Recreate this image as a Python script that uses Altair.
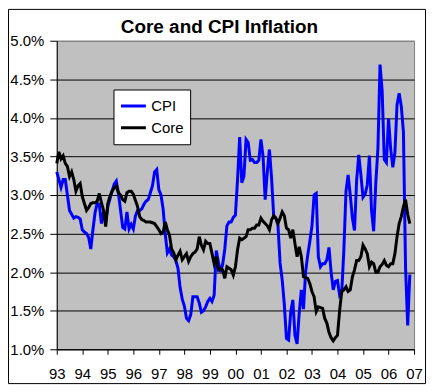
import altair as alt
import pandas as pd

# Year-over-year inflation, %, monthly Jan 1993 .. Nov 2006
cpi_1993 = [3.3, 3.2, 3.1, 3.2, 3.2, 3.0, 2.8, 2.75, 2.7, 2.72, 2.71, 2.69]
cpi_1994 = [2.55, 2.52, 2.5, 2.45, 2.3, 2.55, 2.77, 2.89, 2.88, 2.63, 2.78, 2.65]
cpi_1995 = [2.85, 2.95, 3.05, 3.14, 3.18, 3.02, 2.8, 2.58, 2.56, 2.78, 2.56, 2.62]
cpi_1996 = [2.56, 2.73, 2.8, 2.8, 2.82, 2.88, 2.92, 2.94, 3.03, 3.12, 3.3, 3.33]
cpi_1997 = [3.07, 3.0, 2.82, 2.5, 2.25, 2.3, 2.22, 2.2, 2.15, 2.05, 1.8, 1.65]
cpi_1998 = [1.56, 1.4, 1.37, 1.45, 1.68, 1.68, 1.68, 1.6, 1.48, 1.5, 1.55, 1.62]
cpi_1999 = [1.66, 1.62, 1.7, 2.28, 2.13, 2.0, 2.1, 2.3, 2.6, 2.65, 2.65, 2.71]
cpi_2000 = [2.74, 3.2, 3.75, 3.16, 3.24, 3.72, 3.68, 3.45, 3.46, 3.42, 3.42, 3.45]
cpi_2001 = [3.72, 3.5, 2.94, 3.3, 3.59, 3.22, 2.73, 2.7, 2.61, 2.12, 1.9, 1.58]
cpi_2002 = [1.14, 1.12, 1.48, 1.64, 1.18, 1.07, 1.47, 1.77, 1.52, 2.0, 2.22, 2.4]
cpi_2003 = [2.6, 3.0, 3.02, 2.2, 2.07, 2.11, 2.11, 2.16, 2.32, 2.0, 1.77, 1.88]
cpi_2004 = [1.89, 1.7, 1.74, 2.29, 3.05, 3.26, 3.0, 2.7, 2.54, 3.19, 3.52, 3.26]
cpi_2005 = [2.97, 3.01, 3.13, 3.51, 2.8, 2.53, 3.15, 3.6, 4.69, 4.35, 3.46, 3.42]
cpi_2006 = [3.99, 3.6, 3.36, 3.55, 4.17, 4.32, 4.15, 3.82, 2.06, 1.31, 1.97]

core_1993 = [3.41, 3.56, 3.47, 3.51, 3.41, 3.37, 3.24, 3.3, 3.2, 3.05, 3.12, 3.15]
core_1994 = [2.98, 2.89, 2.8, 2.84, 2.89, 2.9, 2.9, 2.92, 3.02, 2.9, 2.8, 2.59]
core_1995 = [2.89, 2.98, 3.05, 3.09, 3.12, 3.03, 3.0, 2.94, 2.92, 3.03, 3.05, 3.05]
core_1996 = [3.01, 2.93, 2.85, 2.72, 2.68, 2.67, 2.65, 2.65, 2.65, 2.64, 2.63, 2.59]
core_1997 = [2.55, 2.5, 2.52, 2.65, 2.55, 2.48, 2.3, 2.25, 2.16, 2.22, 2.27, 2.16]
core_1998 = [2.2, 2.24, 2.14, 2.2, 2.24, 2.26, 2.3, 2.46, 2.35, 2.29, 2.4, 2.37]
core_1999 = [2.37, 2.24, 2.11, 2.2, 2.03, 2.05, 2.03, 1.92, 2.07, 2.05, 2.03, 1.96]
core_2000 = [2.07, 2.29, 2.44, 2.42, 2.44, 2.46, 2.55, 2.55, 2.57, 2.57, 2.61, 2.61]
core_2001 = [2.7, 2.66, 2.63, 2.6, 2.55, 2.68, 2.73, 2.7, 2.63, 2.7, 2.78, 2.73]
core_2002 = [2.57, 2.55, 2.44, 2.55, 2.37, 2.2, 2.33, 2.2, 1.94, 1.93, 1.92, 1.85]
core_2003 = [1.75, 1.68, 1.49, 1.55, 1.54, 1.53, 1.4, 1.34, 1.22, 1.15, 1.11, 1.15]
core_2004 = [1.18, 1.5, 1.75, 1.77, 1.81, 1.75, 1.77, 1.94, 2.03, 2.15, 2.15, 2.2]
core_2005 = [2.35, 2.3, 2.24, 2.07, 2.13, 2.11, 2.0, 2.0, 2.07, 2.1, 2.15, 2.09]
core_2006 = [2.07, 2.11, 2.11, 2.24, 2.46, 2.63, 2.72, 2.85, 2.94, 2.75, 2.63]

series_names = ["CPI", "Core"]
series_colors = ["#0000FF", "#000000"]
year_ticks = list(range(1993, 2008))
pct_ticks = [0.01, 0.015, 0.02, 0.025, 0.03, 0.035, 0.04, 0.045, 0.05]

cpi = (cpi_1993 + cpi_1994 + cpi_1995 + cpi_1996 + cpi_1997 + cpi_1998 + cpi_1999
       + cpi_2000 + cpi_2001 + cpi_2002 + cpi_2003 + cpi_2004 + cpi_2005 + cpi_2006)
core = (core_1993 + core_1994 + core_1995 + core_1996 + core_1997 + core_1998 + core_1999
        + core_2000 + core_2001 + core_2002 + core_2003 + core_2004 + core_2005 + core_2006)

t = [1993 + i / 12 for i in range(len(cpi))]
df = pd.DataFrame({
    "t": t + t,
    "v": [v / 100 for v in cpi] + [v / 100 for v in core],
    "s": ["CPI"] * len(cpi) + ["Core"] * len(core),
})

W, H = 359, 310
FONT = "Liberation Sans"

x_enc = alt.X("t:Q", scale=alt.Scale(domain=[1993, 2007], nice=False, zero=False),
              axis=alt.Axis(values=year_ticks, labelExpr="slice(toString(datum.value), 2)",
                            title=None, grid=False, tickSize=5, labelPadding=12,
                            labelFlush=False, labelOverlap=False))
y_enc = alt.Y("v:Q", scale=alt.Scale(domain=[0.01, 0.05], nice=False, zero=False),
              axis=alt.Axis(values=pct_ticks, format=".1%", title=None, grid=True,
                            gridColor={"condition": {"test": "datum.value > 0.0499", "value": "#808080"},
                                       "value": "#000000"},
                            gridWidth=1, tickSize=7, labelPadding=6,
                            labelFlush=False, labelOverlap=False))
color_enc = alt.Color("s:N", scale=alt.Scale(domain=series_names, range=series_colors),
                      legend=alt.Legend(title=None, orient="none", legendX=57, legendY=49,
                                        direction="vertical"))

base = alt.Chart(df)
cpi_line = base.transform_filter(alt.datum.s == "CPI").mark_line(strokeWidth=3).encode(
    x=x_enc, y=y_enc, color=color_enc)
core_line = base.transform_filter(alt.datum.s == "Core").mark_line(strokeWidth=3).encode(
    x=x_enc, y=y_enc, color=color_enc)

frame = alt.Chart(pd.DataFrame({"b": [0]})).mark_rect(
    fill="transparent", stroke="#000000", strokeWidth=1).encode(
    x=alt.value(-48.5), x2=alt.value(W + 11.5), y=alt.value(-31.5), y2=alt.value(H + 34.5))

chart = alt.layer(frame, cpi_line, core_line).properties(
    width=W, height=H,
    autosize=alt.AutoSizeParams(type="none"),
    padding={"left": 49, "top": 32, "right": 12, "bottom": 36},
    title=alt.TitleParams("Core and CPI Inflation", font=FONT, fontSize=19, fontWeight="bold",
                          color="#000000", anchor="middle", dx=-16, offset=-47,
                          baseline="bottom"),
    background="#FFFFFF",
).configure_view(
    fill="#C0C0C0", stroke="#808080", strokeWidth=1
).configure_axis(
    labelFont=FONT, labelFontSize=15, labelColor="#000000",
    domainColor="#000000", domainWidth=1, tickColor="#000000", tickWidth=1,
).configure_legend(
    fillColor="#FFFFFF", strokeColor="#000000", strokeWidth=1, padding=6,
    symbolType="stroke", symbolSize=625, symbolStrokeWidth=3,
    labelFont=FONT, labelFontSize=15, labelColor="#000000", labelOffset=4,
    rowPadding=1, clipHeight=21, cornerRadius=0,
)

chart.save("out.html", embed_options={"renderer": "svg", "actions": False})
